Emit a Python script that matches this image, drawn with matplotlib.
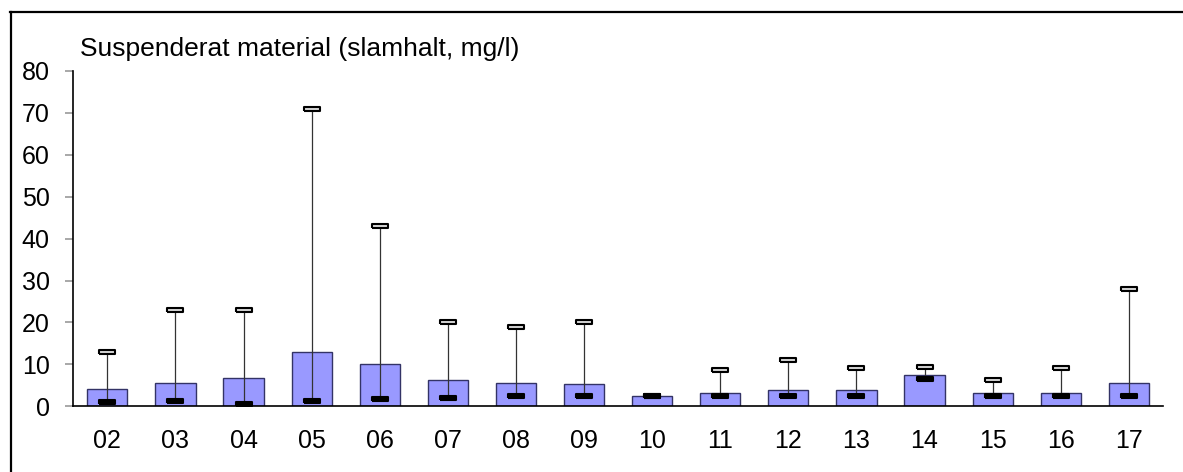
import numpy as np
import matplotlib
matplotlib.use("Agg")
import matplotlib.pyplot as plt
from matplotlib.lines import Line2D

plt.rcParams['font.family'] = ['Liberation Sans', 'DejaVu Sans']

# Suspended solids per station: mean (bar), min and max (markers)
stations = ["02", "03", "04", "05", "06", "07", "08", "09",
            "10", "11", "12", "13", "14", "15", "16", "17"]
mean_vals = [4.2, 5.5, 6.8, 13.0, 10.1, 6.2, 5.5, 5.3,
             2.5, 3.2, 3.8, 4.0, 7.6, 3.1, 3.2, 5.5]
min_vals = [1.0, 1.2, 0.5, 1.2, 1.8, 2.0, 2.5, 2.5,
            2.5, 2.5, 2.5, 2.5, 6.5, 2.5, 2.5, 2.5]
max_vals = [13, 23, 23, 71, 43, 20, 19, 20,
            2.5, 8.6, 11, 9.1, 9.5, 6.2, 9.1, 28]

fig = plt.figure(figsize=(11.83, 4.72), dpi=100)
ax = fig.add_axes([0.062, 0.139, 0.921, 0.711])

x = np.arange(len(stations))
ax.bar(x, mean_vals, width=0.59, color="#9999ff", edgecolor="#333366",
       linewidth=1.0, zorder=2)

# whisker from min to max
ax.vlines(x, min_vals, max_vals, colors="#333333", linewidth=0.9, zorder=3)

# flat rectangle marker for min/max
flat = [(-1, -0.22), (1, -0.22), (1, 0.22), (-1, 0.22), (-1, -0.22)]
ax.plot(x, max_vals, linestyle="none", marker=flat, markersize=11,
        markerfacecolor="#d8d8d8", markeredgecolor="black",
        markeredgewidth=1.5, zorder=4)
ax.plot(x, min_vals, linestyle="none", marker=flat, markersize=11,
        markerfacecolor="black", markeredgecolor="black",
        markeredgewidth=1.5, zorder=5)

ax.set_xlim(-0.5, len(stations) - 0.5)
ax.set_ylim(0, 80)
ax.set_yticks(range(0, 81, 10))
ax.set_xticks(x)
ax.set_xticklabels(stations)

ax.spines["top"].set_visible(False)
ax.spines["right"].set_visible(False)
ax.spines["left"].set_linewidth(1.2)
ax.spines["bottom"].set_linewidth(1.2)
ax.tick_params(axis="y", direction="out", length=6, width=1.2,
               color="#999999", labelsize=18, pad=11)
ax.tick_params(axis="x", length=0, labelsize=18, pad=16)

fig.text(0.068, 0.882, "Suspenderat material (slamhalt, mg/l)", fontsize=19,
         ha="left", va="baseline")

# frame around the figure (left and top edges)
fig.add_artist(Line2D([0.0093, 0.0093], [0.0, 0.975], transform=fig.transFigure,
                      color="black", linewidth=1.6))
fig.add_artist(Line2D([0.0085, 1.0], [0.975, 0.975], transform=fig.transFigure,
                      color="black", linewidth=1.6))

fig.savefig("out.png", dpi=100)
